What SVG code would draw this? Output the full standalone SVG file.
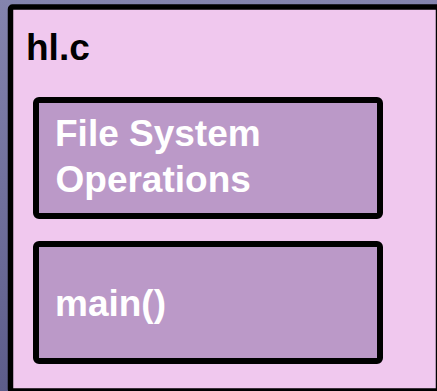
<svg xmlns="http://www.w3.org/2000/svg" width="437" height="391" viewBox="0 0 437 391">
<defs>
<linearGradient id="bg" x1="0" y1="0" x2="0" y2="1">
<stop offset="0" stop-color="#8484ae"/>
<stop offset="1" stop-color="#5c5c8a"/>
</linearGradient>
</defs>
<style>
.outer{fill:#f0c8ee;stroke:#000;stroke-width:5.5}
.box{fill:#bb99c8;stroke:#000;stroke-width:6}
.t{font-family:"Liberation Sans",Arial,sans-serif;font-weight:bold;font-size:37px}
.w{fill:#fff}
</style>
<rect x="0" y="0" width="437" height="391" fill="url(#bg)"/>
<g id="hl_c">
<rect class="outer" x="10.5" y="7" width="428" height="384" rx="2"/>
<text class="t" x="26" y="60" fill="#000">hl.c</text>
</g>
<g id="fs_ops">
<rect class="box" x="36" y="100" width="344" height="116" rx="3"/>
<text class="t w" x="55" y="146">File System</text>
<text class="t w" x="55.5" y="192">Operations</text>
</g>
<g id="main">
<rect class="box" x="36" y="244" width="344" height="117" rx="3"/>
<text class="t w" x="55" y="316">main()</text>
</g>
<g id="connectors"></g>
</svg>
